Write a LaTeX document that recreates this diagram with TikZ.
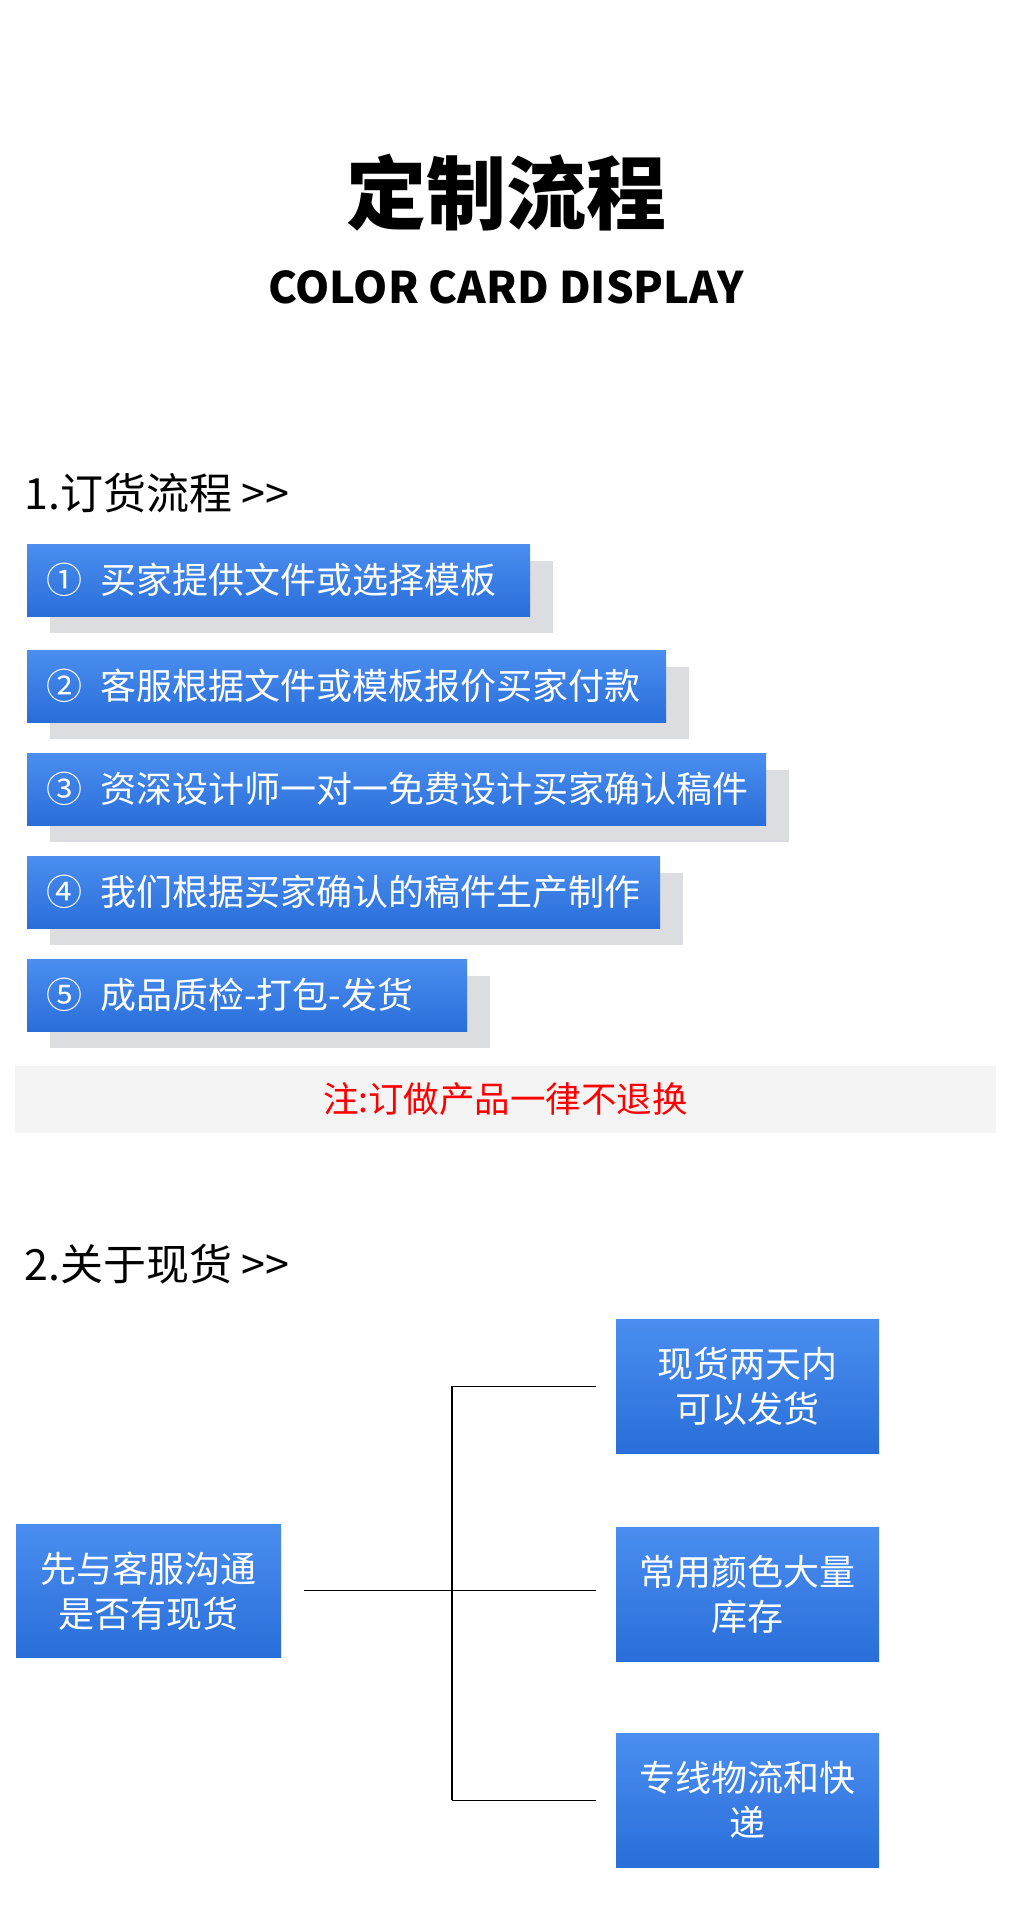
\documentclass[tikz,border=0pt]{standalone}
\usepackage{fontspec}
\setmainfont{Noto Sans CJK SC}
\usetikzlibrary{shadows,calc}
\definecolor{btop}{RGB}{75,142,240}
\definecolor{bbot}{RGB}{41,110,217}
\definecolor{sgray}{RGB}{220,221,225}
\definecolor{noteg}{RGB}{244,244,244}
\definecolor{notered}{RGB}{255,0,0}
\tikzset{
  bluefill/.style={rectangle, top color=btop, bottom color=bbot, draw=none, text=white},
  stepbox/.style={bluefill, anchor=north west, minimum height=72pt, inner xsep=19pt, inner ysep=0pt,
     align=left, font=\fontsize{36}{40}\selectfont,
     general shadow={fill=sgray, shadow xshift=23pt, shadow yshift=-17pt}},
  infobox/.style={bluefill, anchor=north west, minimum width=263pt, minimum height=134pt, inner sep=0pt,
     align=center, font=\fontsize{36}{45}\selectfont},
  header/.style={anchor=west, inner sep=0pt, font=\fontsize{43}{47}\selectfont, text=black},
  conn/.style={draw=black, line width=1.3pt},
}
\newcommand{\gapc}{\hspace{18pt}}
\begin{document}
\begin{tikzpicture}[x=1pt,y=-1pt]
\useasboundingbox[fill=white] (0,0) rectangle (1010,1920);
% titles
\node[inner sep=0pt, font=\fontsize{80}{88}\selectfont\bfseries] (title) at (506,193) {定制流程};
\node[inner sep=0pt, font=\fontsize{43.5}{48}\selectfont\bfseries] (subtitle) at (506,287) {COLOR CARD DISPLAY};
% section 1
\node[header] (h1) at (24,493) {1.订货流程 >{}>};
\node[stepbox, text width=465pt] (s1) at (27,544) {①\gapc 买家提供文件或选择模板};
\node[stepbox, text width=601pt] (s2) at (27,650) {②\gapc 客服根据文件或模板报价买家付款};
\node[stepbox, text width=701pt] (s3) at (27,753) {③\gapc 资深设计师一对一免费设计买家确认稿件};
\node[stepbox, text width=595pt] (s4) at (27,856) {④\gapc 我们根据买家确认的稿件生产制作};
\node[stepbox, text width=402pt] (s5) at (27,959) {⑤\gapc 成品质检-打包-发货};
\node[fill=noteg, minimum width=981pt, minimum height=67pt, inner sep=0pt, text=notered,
      font=\fontsize{35.5}{38}\selectfont] (note) at (505.5,1099.5) {注:订做产品一律不退换};
% section 2
\node[header] (h2) at (24,1264) {2.关于现货 >{}>};
\node[infobox, minimum width=265pt, minimum height=133pt] (L) at (16,1524) {先与客服沟通\\是否有现货};
\node[infobox] (R1) at (616,1319) {现货两天内\\可以发货};
\node[infobox] (R2) at (616,1527) {常用颜色大量\\库存};
\node[infobox] (R3) at (616,1733) {专线物流和快\\递};
\coordinate (J) at (452,1591);
\draw[conn] (J |- R1.west) -- (J |- R3.west);
\draw[conn, shorten >=20pt] (J |- R1.west) -- (R1.west);
\draw[conn, shorten >=20pt] (J |- R3.west) -- (R3.west);
\draw[conn, shorten <=23pt, shorten >=20pt] (L.east) -- (L.east -| R2.west);
\end{tikzpicture}
\end{document}
